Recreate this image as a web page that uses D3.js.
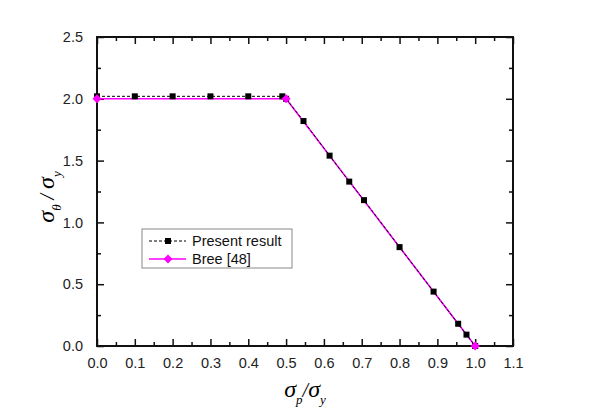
<!DOCTYPE html>
<html>
<head>
<meta charset="utf-8">
<script src="https://cdn.jsdelivr.net/npm/d3@7"></script>
<style>
  body { margin: 0; background: #fff; }
  svg text { font-family: "Liberation Sans", Arial, sans-serif; }
</style>
</head>
<body>
<svg></svg>
<script>
// Present result (black squares, dashed)
const presentX = [0, 0.1, 0.2, 0.3, 0.4, 0.49, 0.5, 0.546, 0.615, 0.667, 0.706, 0.8, 0.89, 0.955, 0.977, 1.0];
const presentY = [2.02, 2.02, 2.02, 2.02, 2.02, 2.02, 2.0, 1.82, 1.54, 1.33, 1.18, 0.8, 0.44, 0.18, 0.092, 0];
// Bree [48] (magenta diamonds, solid)
const breeX = [0, 0.5, 1.0];
const breeY = [2.0, 2.0, 0];

const xTicks = [0, 0.1, 0.2, 0.3, 0.4, 0.5, 0.6, 0.7, 0.8, 0.9, 1.0, 1.1];
const yTicks = [0, 0.5, 1.0, 1.5, 2.0, 2.5];
const seriesNames = ["Present result", "Bree [48]"];

const svgWidth = 593, svgHeight = 414;
const margin = { top: 37, right: 80, bottom: 68, left: 97 };
const w = svgWidth - margin.left - margin.right;
const h = svgHeight - margin.top - margin.bottom;

const svg = d3.select("svg").attr("width", svgWidth).attr("height", svgHeight);
const g = svg.append("g").attr("transform", `translate(${margin.left},${margin.top})`);

const x = d3.scaleLinear().domain([0, 1.1]).range([0, w]);
const y = d3.scaleLinear().domain([0, 2.5]).range([h, 0]);

const xMinor = d3.range(0.05, 1.1, 0.1);
const yMinor = d3.range(0.25, 2.5, 0.5);

// bottom axis
g.append("g").attr("transform", `translate(0,${h})`)
  .call(d3.axisBottom(x).tickValues(xTicks).tickFormat(d3.format(".1f")).tickSizeInner(-7).tickSizeOuter(0).tickPadding(12));
g.append("g").attr("transform", `translate(0,${h})`)
  .call(d3.axisBottom(x).tickValues(xMinor).tickFormat("").tickSizeInner(-4).tickSizeOuter(0));
// top axis
g.append("g").call(d3.axisTop(x).tickValues(xTicks).tickFormat("").tickSizeInner(-7).tickSizeOuter(0));
g.append("g").call(d3.axisTop(x).tickValues(xMinor).tickFormat("").tickSizeInner(-4).tickSizeOuter(0));
// left axis
g.append("g")
  .call(d3.axisLeft(y).tickValues(yTicks).tickFormat(d3.format(".1f")).tickSizeInner(-7).tickSizeOuter(0).tickPadding(14));
g.append("g").call(d3.axisLeft(y).tickValues(yMinor).tickFormat("").tickSizeInner(-4).tickSizeOuter(0));
// right axis
g.append("g").attr("transform", `translate(${w},0)`)
  .call(d3.axisRight(y).tickValues(yTicks).tickFormat("").tickSizeInner(-7).tickSizeOuter(0));
g.append("g").attr("transform", `translate(${w},0)`)
  .call(d3.axisRight(y).tickValues(yMinor).tickFormat("").tickSizeInner(-4).tickSizeOuter(0));

g.selectAll(".domain").remove();
g.selectAll(".tick line").attr("stroke", "#111").attr("stroke-width", 1.5);
g.selectAll(".tick text").attr("font-size", 14.5).attr("fill", "#222");

// frame
g.append("rect").attr("width", w).attr("height", h)
  .attr("fill", "none").attr("stroke", "#111").attr("stroke-width", 2);

const breePts = breeX.map((d, i) => [d, breeY[i]]);
const presentPts = presentX.map((d, i) => [d, presentY[i]]);
const line = d3.line().x(d => x(d[0])).y(d => y(d[1]));

g.append("path").datum(breePts).attr("d", line)
  .attr("fill", "none").attr("stroke", "#ff00ff").attr("stroke-width", 1.6);

g.append("path").datum(presentPts).attr("d", line)
  .attr("fill", "none").attr("stroke", "#000").attr("stroke-width", 1).attr("stroke-dasharray", "3,2");

g.selectAll(".sq").data(presentPts).enter().append("rect").attr("class", "sq")
  .attr("x", d => x(d[0]) - 3).attr("y", d => y(d[1]) - 3)
  .attr("width", 6).attr("height", 6).attr("fill", "#000");

// diamond = square rotated 45 degrees
const diamond = d3.symbol().type(d3.symbolSquare).size(40);
g.selectAll(".dm").data(breePts).enter().append("path").attr("class", "dm")
  .attr("transform", d => `translate(${x(d[0])},${y(d[1])}) rotate(45)`)
  .attr("d", diamond).attr("fill", "#ff00ff");

// legend
const lg = svg.append("g").attr("transform", "translate(142,229)");
lg.append("rect").attr("width", 150).attr("height", 39)
  .attr("fill", "#fff").attr("stroke", "#888").attr("stroke-width", 1);
lg.append("line").attr("x1", 7).attr("x2", 44).attr("y1", 12).attr("y2", 12)
  .attr("stroke", "#000").attr("stroke-dasharray", "3,2");
lg.append("rect").attr("x", 23).attr("y", 9).attr("width", 6).attr("height", 6).attr("fill", "#000");
lg.append("line").attr("x1", 7).attr("x2", 44).attr("y1", 30).attr("y2", 30)
  .attr("stroke", "#ff00ff").attr("stroke-width", 1.6);
lg.append("path").attr("transform", "translate(26,30) rotate(45)").attr("d", diamond).attr("fill", "#ff00ff");
lg.selectAll(".lt").data(seriesNames).enter().append("text")
  .attr("x", 50).attr("y", (d, i) => 17 + i * 18)
  .attr("font-size", 14.5).attr("fill", "#111").text(d => d);

// axis titles
const xt = svg.append("text").attr("x", 305).attr("y", 397).attr("text-anchor", "middle")
  .style("font-family", "'Liberation Serif', serif").attr("font-size", 24).attr("font-style", "italic");
xt.append("tspan").text("σ");
xt.append("tspan").attr("font-size", 13).attr("dy", 7).text("p");
xt.append("tspan").attr("dy", -7).attr("font-size", 20).text("/");
xt.append("tspan").text("σ");
xt.append("tspan").attr("font-size", 13).attr("dy", 7).text("y");

const yt = svg.append("text").attr("transform", "translate(54,197) rotate(-90)").attr("text-anchor", "middle")
  .style("font-family", "'Liberation Serif', serif").attr("font-size", 24).attr("font-style", "italic");
yt.append("tspan").text("σ");
yt.append("tspan").attr("font-size", 13).attr("dy", 7).text("θ");
yt.append("tspan").attr("dy", -7).attr("font-size", 20).text(" / ");
yt.append("tspan").text("σ");
yt.append("tspan").attr("font-size", 13).attr("dy", 7).text("y");
</script>
</body>
</html>
